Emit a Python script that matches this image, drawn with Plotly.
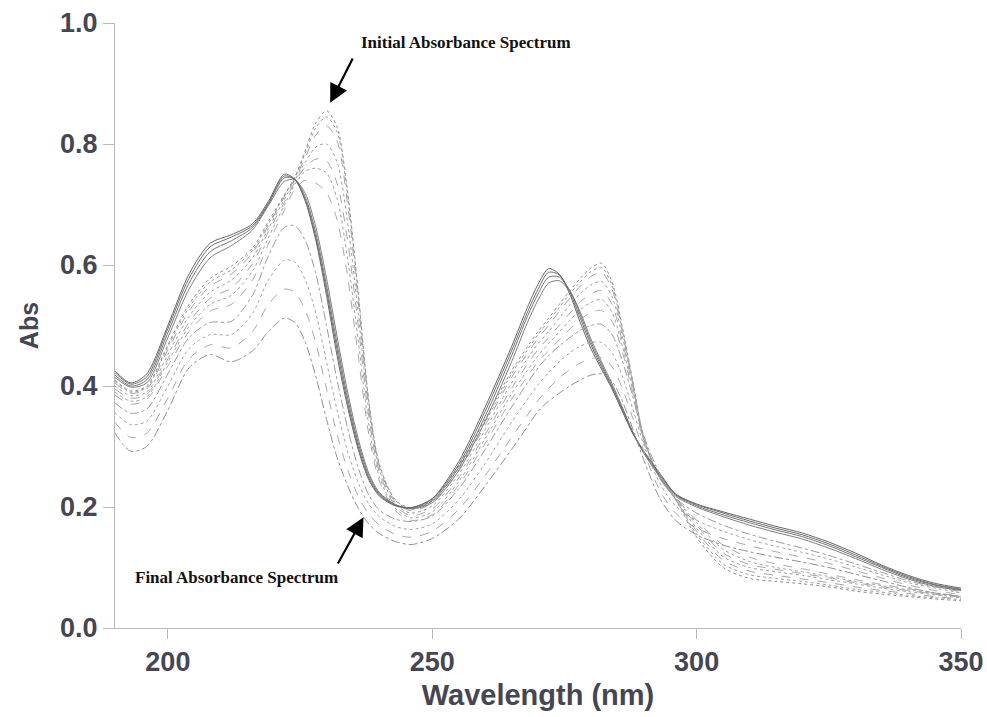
import plotly.graph_objects as go

# Wavelength grid (nm) shared by every recorded scan
wavelength = [190, 193, 196, 200, 204, 208, 212, 216, 219, 222, 224, 226, 228, 230, 232, 234, 236, 238, 240, 243,
              246, 250, 255, 260, 265, 268, 270, 272, 274, 276, 278, 280, 282, 284, 286, 288, 290, 293, 296, 300,
              305, 310, 315, 320, 325, 330, 335, 340, 345, 350]

# Absorbance scans, first (initial) to last (final)
scan_01 = [.410, .392, .400, .468, .535, .578, .598, .628, .672, .716, .745, .790, .835, .855, .828, .720, .555, .375, .270, .212,
           .198, .212, .268, .345, .425, .465, .490, .512, .535, .557, .578, .595, .603, .572, .495, .405, .316, .248, .212, .150,
           .100, .082, .077, .073, .068, .061, .056, .052, .048, .045]
scan_02 = [.408, .390, .398, .465, .530, .572, .592, .624, .668, .714, .744, .785, .827, .845, .820, .715, .552, .375, .270, .211,
           .196, .210, .264, .340, .420, .460, .485, .507, .530, .552, .572, .589, .596, .566, .490, .402, .314, .248, .213, .155,
           .106, .088, .082, .077, .071, .064, .059, .054, .050, .047]
scan_03 = [.405, .388, .395, .460, .524, .565, .585, .620, .665, .712, .742, .778, .815, .830, .805, .700, .540, .368, .266, .208,
           .194, .207, .260, .335, .414, .454, .479, .500, .523, .545, .565, .581, .588, .560, .487, .400, .314, .248, .213, .160,
           .112, .094, .087, .081, .075, .068, .062, .057, .052, .048]
scan_04 = [.400, .384, .390, .452, .515, .555, .575, .612, .660, .708, .740, .770, .795, .800, .770, .670, .520, .360, .262, .205,
           .190, .202, .254, .328, .405, .445, .470, .490, .512, .534, .553, .567, .573, .548, .480, .398, .313, .249, .213, .165,
           .118, .100, .093, .087, .080, .073, .066, .060, .055, .050]
scan_05 = [.395, .380, .386, .445, .505, .545, .562, .602, .655, .703, .737, .762, .775, .772, .735, .640, .500, .350, .257, .202,
           .186, .197, .248, .320, .396, .436, .460, .480, .500, .520, .539, .552, .558, .535, .472, .395, .312, .250, .214, .170,
           .124, .105, .097, .090, .083, .075, .068, .062, .056, .051]
scan_06 = [.390, .375, .382, .440, .498, .535, .550, .590, .645, .698, .733, .755, .760, .752, .710, .610, .475, .335, .250, .198,
           .182, .192, .242, .313, .387, .426, .450, .470, .489, .508, .526, .538, .543, .522, .464, .390, .310, .250, .214, .174,
           .130, .110, .100, .093, .085, .077, .070, .063, .057, .052]
scan_07 = [.385, .370, .378, .433, .490, .524, .535, .575, .635, .690, .725, .740, .735, .720, .675, .580, .450, .320, .243, .194,
           .178, .187, .236, .305, .378, .416, .440, .458, .476, .494, .510, .521, .525, .507, .455, .385, .307, .250, .215, .178,
           .137, .117, .106, .098, .089, .080, .072, .065, .058, .053]
scan_08 = [.414, .398, .405, .480, .560, .612, .632, .658, .698, .738, .741, .718, .662, .578, .482, .390, .313, .256, .224, .204,
           .197, .207, .260, .342, .440, .505, .542, .570, .574, .557, .522, .478, .440, .404, .364, .322, .289, .250, .218, .200,
           .184, .170, .158, .147, .132, .115, .097, .081, .069, .062]
scan_09 = [.418, .400, .410, .488, .570, .622, .640, .662, .700, .744, .742, .712, .652, .566, .470, .380, .306, .252, .222, .204,
           .198, .210, .265, .350, .450, .515, .552, .580, .580, .558, .518, .473, .436, .400, .362, .322, .290, .253, .220, .202,
           .187, .174, .162, .151, .136, .118, .100, .083, .071, .063]
scan_10 = [.422, .403, .415, .495, .578, .630, .646, .665, .702, .747, .741, .708, .645, .558, .460, .372, .300, .248, .220, .203,
           .199, .213, .270, .358, .458, .522, .560, .588, .584, .556, .512, .468, .432, .398, .360, .322, .292, .255, .221, .204,
           .190, .177, .165, .154, .139, .121, .102, .085, .072, .064]
scan_11 = [.425, .405, .420, .500, .585, .636, .650, .668, .705, .750, .742, .705, .640, .550, .450, .365, .295, .245, .218, .202,
           .199, .214, .275, .365, .465, .530, .568, .594, .585, .552, .505, .462, .428, .395, .357, .320, .292, .256, .222, .205,
           .192, .180, .168, .157, .142, .124, .104, .087, .074, .066]
scan_12 = [.372, .355, .362, .420, .480, .505, .507, .550, .615, .662, .665, .640, .585, .500, .410, .330, .265, .220, .195, .180,
           .176, .185, .230, .295, .365, .405, .430, .450, .466, .480, .492, .500, .502, .485, .440, .380, .318, .255, .215, .190,
           .170, .155, .143, .132, .120, .106, .092, .078, .068, .060]
scan_13 = [.356, .336, .342, .400, .462, .485, .485, .520, .575, .608, .605, .575, .520, .440, .360, .292, .240, .205, .184, .168,
           .163, .172, .212, .272, .340, .378, .402, .422, .440, .455, .466, .472, .472, .455, .415, .360, .303, .240, .202, .178,
           .160, .146, .135, .125, .114, .101, .088, .075, .066, .058]
scan_14 = [.340, .315, .322, .380, .445, .468, .463, .490, .535, .560, .555, .525, .470, .395, .320, .262, .218, .188, .170, .155,
           .150, .160, .196, .252, .315, .352, .376, .396, .413, .427, .438, .445, .447, .432, .395, .345, .292, .228, .190, .165,
           .148, .136, .126, .117, .107, .095, .083, .071, .062, .055]
scan_15 = [.322, .292, .300, .360, .430, .452, .440, .458, .490, .512, .505, .472, .415, .345, .282, .235, .198, .172, .156, .143,
           .138, .148, .180, .235, .295, .333, .358, .375, .388, .400, .410, .418, .420, .408, .374, .327, .278, .215, .178, .154,
           .137, .126, .117, .109, .100, .089, .078, .067, .058, .052]

scans = [scan_01, scan_02, scan_03, scan_04, scan_05, scan_06, scan_07, scan_08,
         scan_09, scan_10, scan_11, scan_12, scan_13, scan_14, scan_15]

# Pen style for each scan (colour, dash)
pen_colors = ["#8e8e8e", "#9c9c9c", "#a2a2a2", "#9e9e9e", "#a6a6a6", "#a2a2a2", "#aaaaaa",
              "#7e7e7e", "#767676", "#6e6e6e", "#666666",
              "#9c9c9c", "#a4a4a4", "#a8a8a8", "#909090"]
pen_dashes = ["dot", "dot", "dash", "dot", "dash", "dot", "dash",
              "solid", "solid", "solid", "solid",
              "dashdot", "dot", "dash", "dashdot"]

fig = go.Figure()
for values, color, dash in zip(scans, pen_colors, pen_dashes):
    fig.add_trace(go.Scatter(
        x=wavelength, y=values, mode="lines",
        line=dict(color=color, width=1, dash=dash, shape="spline", smoothing=0.8),
        hoverinfo="skip", showlegend=False,
    ))

text_color = "#464652"
axis_color = "#b9b9b9"
label_font = dict(family="Liberation Serif, Times New Roman, serif", size=17, color="#111111")

annotations = [
    dict(x=236.2, y=0.967, xref="x", yref="y", text="<b>Initial Absorbance Spectrum</b>",
         showarrow=False, xanchor="left", yanchor="middle", font=label_font),
    dict(x=230.7, y=0.868, xref="x", yref="y", ax=235.1, ay=0.944, axref="x", ayref="y",
         text="", showarrow=True, arrowhead=2, arrowsize=1.7, arrowwidth=2.2, arrowcolor="#000000"),
    dict(x=193.4, y=0.084, xref="x", yref="y", text="<b>Final Absorbance Spectrum</b>",
         showarrow=False, xanchor="left", yanchor="middle", font=label_font),
    dict(x=237.0, y=0.183, xref="x", yref="y", ax=232.0, ay=0.104, axref="x", ayref="y",
         text="", showarrow=True, arrowhead=2, arrowsize=1.7, arrowwidth=2.2, arrowcolor="#000000"),
]

fig.update_layout(
    width=987, height=717,
    margin=dict(l=115, r=26, t=23, b=89),
    paper_bgcolor="white", plot_bgcolor="white",
    annotations=annotations,
    font=dict(family="Liberation Sans, Arial, sans-serif", color=text_color),
)
fig.update_xaxes(
    range=[190, 350], tick0=200, dtick=50, automargin=False,
    showline=True, linecolor=axis_color, linewidth=1,
    ticks="outside", ticklen=10, tickcolor=axis_color, tickwidth=1,
    showgrid=False, zeroline=False,
    tickfont=dict(size=27, color=text_color, family="Liberation Sans, Arial, sans-serif", weight="bold"),
    title=dict(text="<b>Wavelength (nm)</b>", font=dict(size=29, color=text_color), standoff=8),
)
fig.update_yaxes(
    range=[0, 1.0], tick0=0, dtick=0.2, tickformat=".1f", automargin=False,
    showline=True, linecolor=axis_color, linewidth=1,
    ticks="outside", ticklen=11, tickcolor=axis_color, tickwidth=1,
    showgrid=False, zeroline=False,
    tickfont=dict(size=27, color=text_color, family="Liberation Sans, Arial, sans-serif", weight="bold"),
    title=dict(text="<b>Abs</b>", font=dict(size=25, color=text_color), standoff=14),
)

fig.write_html("out.html")
